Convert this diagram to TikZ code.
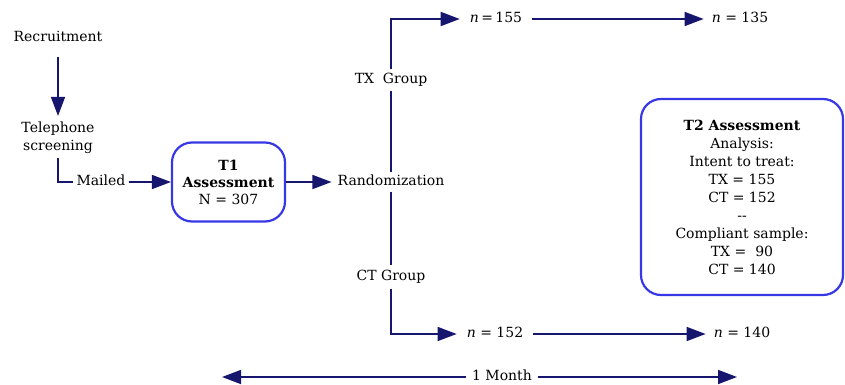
\documentclass[tikz,border=0pt]{standalone}
\usepackage{fontspec}
\setmainfont{DejaVu Serif}
\usetikzlibrary{arrows.meta}
\definecolor{navy}{RGB}{22,22,110}
\definecolor{boxblue}{RGB}{55,55,230}
\tikzset{
  lbl/.style={inner sep=0pt, font=\fontsize{14}{17}\selectfont, text height=10pt, text depth=3pt},
  conn/.style={draw=navy, line width=1.6pt},
  arr/.style={conn, -{Triangle[length=19pt,width=14pt]}},
  rbox/.style={draw=boxblue, line width=2.2pt, rounded corners=20pt, align=center,
    font=\fontsize{14}{17}\selectfont, inner sep=0pt}
}
\begin{document}
\begin{tikzpicture}[x=1pt,y=-1pt]
\useasboundingbox (0,0) rectangle (845,385);
% left column
\node[lbl] (rec) at (58,38) {Recruitment};
\node[lbl, align=center, font=\fontsize{14}{18}\selectfont, text height=, text depth=] (tel) at (58,138) {Telephone\\screening};
\node[lbl, inner xsep=3pt] (mailed) at (101,182) {Mailed};
\node[rbox, minimum width=113pt, minimum height=79pt] (t1) at (228.5,182)
  {\textbf{T1}\\\textbf{Assessment}\\N = 307};
% randomization
\node[lbl, inner xsep=6pt, inner ysep=3pt] (rand) at (391,182) {Randomization};
\node[lbl, inner ysep=4pt] (tx) at (391,80) {TX\ \ Group};
\node[lbl, inner ysep=5pt] (ct) at (391,277) {CT Group};
\node[lbl, inner xsep=10pt] (n155) at (496,19) {\textit{n}\,=\,155};
\node[lbl, inner xsep=8pt] (n135) at (740,19) {\textit{n} = 135};
\node[lbl, inner xsep=10pt] (n152) at (495,334) {\textit{n} = 152};
\node[lbl, inner xsep=8pt] (n140) at (742,334) {\textit{n} = 140};
% T2
\node[rbox, minimum width=202pt, minimum height=196pt] (t2) at (742,197)
  {\textbf{T2 Assessment}\\[1pt]Analysis:\\[1pt]Intent to treat:\\[1pt]TX = 155\\[1pt]CT = 152\\[1pt]-{}-\\[1pt]Compliant sample:\\[1pt]TX = \ 90\\[1pt]CT = 140};
% month
\node[lbl, inner xsep=6pt] (month) at (502,377) {1 Month};
\coordinate (ml) at (222,377);
\coordinate (mr) at (737,377);
% connectors
\draw[arr, shorten <=12pt, shorten >=6pt] (rec.south) -- (tel.north);
\draw[conn, shorten <=4pt] (tel.south) |- (mailed.west);
\draw[arr] (mailed.east) -- (t1.west);
\draw[arr] (t1.east) -- (rand.west);
\draw[conn] (rand.north) -- (tx.south);
\draw[arr] (tx.north) |- (n155.west);
\draw[arr] (n155.east) -- (n135.west);
\draw[conn] (rand.south) -- (ct.north);
\draw[arr] (ct.south) |- (n152.west);
\draw[arr] (n152.east) -- (n140.west);
\draw[arr] (month.west) -- (ml);
\draw[arr] (month.east) -- (mr);
\end{tikzpicture}
\end{document}
